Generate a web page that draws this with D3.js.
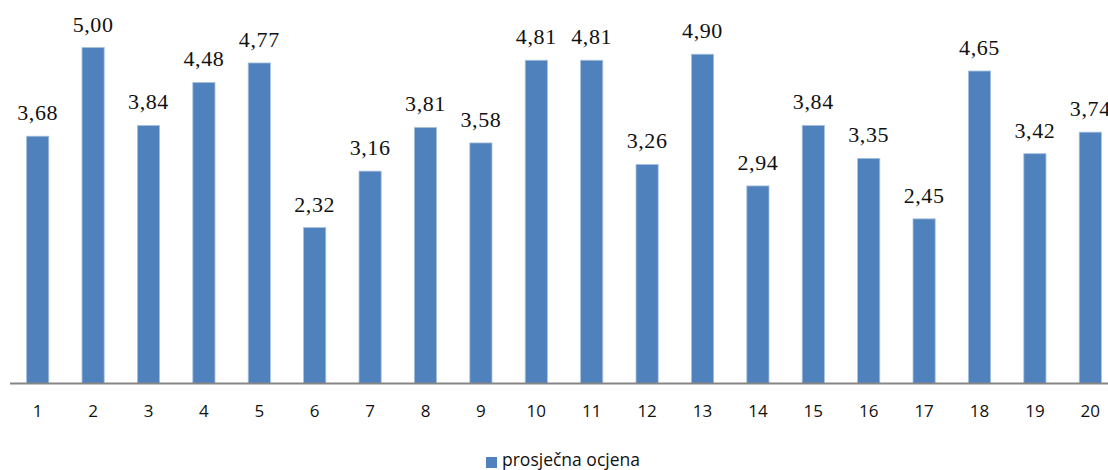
<!DOCTYPE html>
<html><head><meta charset="utf-8">
<script src="https://cdn.jsdelivr.net/npm/d3@7"></script>
<style>body{margin:0;background:#fff}svg{display:block}</style>
</head><body>
<svg id="c" width="1108" height="470"></svg>
<script>
const categories = ["1","2","3","4","5","6","7","8","9","10","11","12","13","14","15","16","17","18","19","20"];
const values = [3.68,5.00,3.84,4.48,4.77,2.32,3.16,3.81,3.58,4.81,4.81,3.26,4.90,2.94,3.84,3.35,2.45,4.65,3.42,3.74];
const seriesName = "prosječna ocjena";

const svg = d3.select("#c");
const x = d3.scaleBand().domain(categories).range([10, 1118]).paddingInner(0.6).paddingOuter(0.3);
const y = d3.scaleLinear().domain([0, 5]).range([383.5, 47.5]);
const fmt = v => v.toFixed(2).replace(".", ",");

svg.append("g").selectAll("rect").data(values).join("rect")
  .attr("x", (d,i) => x(categories[i]))
  .attr("y", d => y(d))
  .attr("width", x.bandwidth())
  .attr("height", d => y(0) - y(d))
  .attr("fill", "#4F81BD")
  .attr("stroke", "#a7c0de").attr("stroke-width", 0.8);

svg.append("g").selectAll("text").data(values).join("text")
  .attr("x", (d,i) => x(categories[i]) + x.bandwidth()/2)
  .attr("y", d => y(d) - 16)
  .attr("text-anchor", "middle")
  .attr("font-family", "Liberation Serif, serif")
  .attr("font-size", 22)
  .attr("letter-spacing", 0.6)
  .attr("fill", "#111")
  .text(fmt);

const axis = svg.append("g").attr("transform", `translate(0,${y(0)})`)
  .call(d3.axisBottom(x).tickSize(0).tickPadding(21));
axis.select(".domain").attr("stroke", "#868686").attr("stroke-width", 2).attr("d", "M10,0H1108");
axis.selectAll("text").attr("font-family", "Open Sans, sans-serif").attr("font-size", 17).attr("fill", "#111");

const lg = svg.append("g");
lg.append("rect").attr("x", 486).attr("y", 457).attr("width", 11).attr("height", 11).attr("fill", "#4F81BD");
lg.append("text").attr("x", 502).attr("y", 466)
  .attr("font-family", "Open Sans, sans-serif").attr("font-size", 17.5).attr("fill", "#111")
  .text(seriesName);
</script>
</body></html>
